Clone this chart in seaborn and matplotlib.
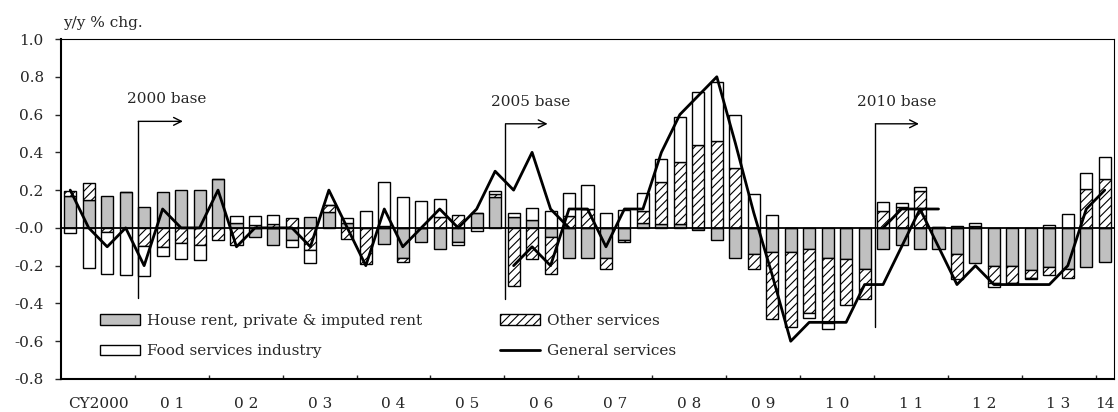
import numpy as np
import seaborn as sns
import matplotlib
matplotlib.use("Agg")
import matplotlib.pyplot as plt

# quarterly data, CY2000 Q1 .. 2014 Q1 (contributions, y/y % chg.)
quarters = list(range(57))

house_rent = [0.17, 0.15, 0.17, 0.19, 0.11, 0.19, 0.20, 0.20, 0.26, 0.025,
              -0.05, -0.09, -0.065, 0.057, 0.085, 0.025, 0.0, -0.083, -0.157, -0.075,
              -0.11, -0.075, 0.08, 0.165, 0.057, 0.043, -0.047, -0.157, -0.157, -0.16,
              -0.062, 0.027, 0.018, 0.02, -0.01, -0.065, -0.158, -0.137, -0.13, -0.13,
              -0.11, -0.16, -0.167, -0.216, -0.11, -0.09, -0.11, -0.11, -0.14, -0.188,
              -0.2, -0.2, -0.223, -0.205, -0.216, -0.205, -0.18]
other_services = [0.025, 0.09, -0.02, 0.0, -0.095, -0.10, -0.08, -0.09, -0.065, -0.09,
                  0.015, 0.02, 0.05, -0.115, 0.035, -0.06, -0.19, 0.01, -0.023, 0.0,
                  0.06, 0.07, 0.0, 0.015, -0.31, -0.163, -0.197, 0.063, 0.10, -0.06,
                  -0.013, 0.062, 0.225, 0.328, 0.44, 0.46, 0.318, -0.083, -0.35, -0.395,
                  -0.342, -0.345, -0.243, -0.162, 0.087, 0.11, 0.195, 0.006, -0.132, 0.01,
                  -0.094, -0.09, -0.04, -0.045, -0.048, 0.207, 0.257]
food_services = [-0.025, -0.21, -0.225, -0.25, -0.16, -0.05, -0.085, -0.08, 0.0, 0.04,
                 0.048, 0.05, -0.035, -0.07, 0.0, 0.03, 0.09, 0.235, 0.165, 0.145,
                 0.095, -0.015, -0.015, 0.015, 0.023, 0.062, 0.088, 0.124, 0.127, 0.08,
                 0.094, 0.097, 0.123, 0.238, 0.28, 0.31, 0.28, 0.177, 0.07, 0.0,
                 -0.023, -0.028, 0.0, 0.0, 0.05, 0.02, 0.023, 0.0, 0.01, 0.014,
                 -0.021, -0.005, -0.008, 0.015, 0.071, 0.083, 0.118]

# general services, one line per base year period
gs_2000_x = list(range(0, 28))
gs_2000 = [0.2, 0.0, -0.1, 0.0, -0.2, 0.1, 0.0, 0.0, 0.2, -0.1,
           0.0, 0.0, 0.0, -0.1, 0.2, 0.0, -0.2, 0.1, -0.1, 0.0,
           0.1, 0.0, 0.1, 0.3, 0.2, 0.4, 0.1, 0.0]
gs_new_x = list(range(24, 57))
gs_new = [-0.2, -0.1, -0.2, 0.1, 0.1, -0.1, 0.1, 0.1, 0.4, 0.6,
          0.7, 0.8, 0.45, 0.08, -0.25, -0.6, -0.5, -0.5, -0.5, -0.3,
          -0.3, -0.1, 0.1, -0.1, -0.3, -0.2, -0.3, -0.3, -0.3, -0.3,
          -0.2, 0.1, 0.2]
gs_2005_tail_x = [44, 45, 46, 47]
gs_2005_tail = [0.0, 0.1, 0.1, 0.1]

year_labels = ["CY2000", "0 1", "0 2", "0 3", "0 4", "0 5", "0 6", "0 7",
               "0 8", "0 9", "1 0", "1 1", "1 2", "1 3", "14"]

sns.set_theme(style="ticks")
plt.rcParams["font.family"] = ["DejaVu Serif"]
plt.rcParams["hatch.linewidth"] = 0.8
FS = 11

fig = plt.figure(figsize=(11.18, 4.12), dpi=100)
ax = fig.add_axes([61 / 1118, 33 / 412, 1053 / 1118, 340 / 412])

# stacked bars, positives up and negatives down
x = np.array(quarters)
pos = np.zeros(len(x))
neg = np.zeros(len(x))
styles = [
    (house_rent, "#C0C0C0", None, "House rent, private & imputed rent"),
    (other_services, "white", "////", "Other services"),
    (food_services, "white", None, "Food services industry"),
]
containers = []
for vals, fc, hatch, lab in styles:
    v = np.array(vals)
    bottom = np.where(v >= 0, pos, neg)
    bc = ax.bar(x, v, width=0.65, bottom=bottom, color=fc, edgecolor="black",
                linewidth=1.0, hatch=hatch, label=lab, zorder=2)
    containers.append(bc)
    pos = np.where(v >= 0, pos + v, pos)
    neg = np.where(v < 0, neg + v, neg)

ax.axhline(0, color="black", lw=1.3, zorder=2.5)

sns.lineplot(x=gs_2000_x, y=gs_2000, color="black", linewidth=2, ax=ax, zorder=3)
sns.lineplot(x=gs_new_x, y=gs_new, color="black", linewidth=2, ax=ax, zorder=3)
sns.lineplot(x=gs_2005_tail_x, y=gs_2005_tail, color="black", linewidth=2, ax=ax, zorder=3)

# base year markers
bases = [("2000 base", 3.68, 6.1, 0.564, -0.373, 5.2, 0.68),
         ("2005 base", 23.56, 25.84, 0.551, -0.378, 24.9, 0.664),
         ("2010 base", 43.58, 45.94, 0.551, -0.525, 44.74, 0.664)]
for txt, xv, xa, ytop, ybot, xt, yt in bases:
    ax.plot([xv, xv], [ybot, ytop], color="black", lw=1.0, zorder=4)
    ax.annotate("", xy=(xa, ytop), xytext=(xv, ytop),
                arrowprops=dict(arrowstyle="->", color="black", lw=1.0,
                                mutation_scale=14, shrinkA=0, shrinkB=0), zorder=4)
    ax.text(xt, yt, txt, ha="center", va="center", fontsize=FS)

ax.set_xlim(-0.5, 56.5)
ax.set_ylim(-0.8, 1.0)
ax.set_yticks(np.arange(-0.8, 1.01, 0.2))
ax.set_yticklabels([f"{t:.1f}" for t in np.arange(-0.8, 1.01, 0.2)], fontsize=FS)
ax.tick_params(axis="y", direction="out", length=4.5, width=1, pad=8)

ax.set_xticks(np.arange(3.5, 56, 4))
ax.set_xticklabels([])
ax.tick_params(axis="x", which="major", direction="in", length=3, width=1)
ax.set_xticks(list(np.arange(1.5, 55, 4)) + [56], minor=True)
ax.set_xticklabels(year_labels, minor=True, fontsize=FS)
ax.tick_params(axis="x", which="minor", length=0, pad=13)

for side in ["left", "bottom"]:
    ax.spines[side].set_linewidth(1.5)
for side in ["top", "right"]:
    ax.spines[side].set_linewidth(0.8)
for s in ax.spines.values():
    s.set_color("black")
ax.set_xlabel("")
ax.set_ylabel("")

line_handle = ax.get_lines()[1]
leg_kw = dict(frameon=False, fontsize=FS, handlelength=2.6, handleheight=0.72,
              handletextpad=0.45, labelspacing=1.1, borderpad=0, borderaxespad=0,
              loc="center left")
leg1 = ax.legend([containers[0], containers[2]],
                 ["House rent, private & imputed rent", "Food services industry"],
                 bbox_to_anchor=(0.037, 0.1265), **leg_kw)
ax.add_artist(leg1)
ax.legend([containers[1], line_handle], ["Other services", "General services"],
          bbox_to_anchor=(0.417, 0.1265), **leg_kw)

fig.text(63 / 1118, 1 - 23 / 412, "y/y % chg.", ha="left", va="center", fontsize=FS)

fig.savefig("out.png", dpi=100)
